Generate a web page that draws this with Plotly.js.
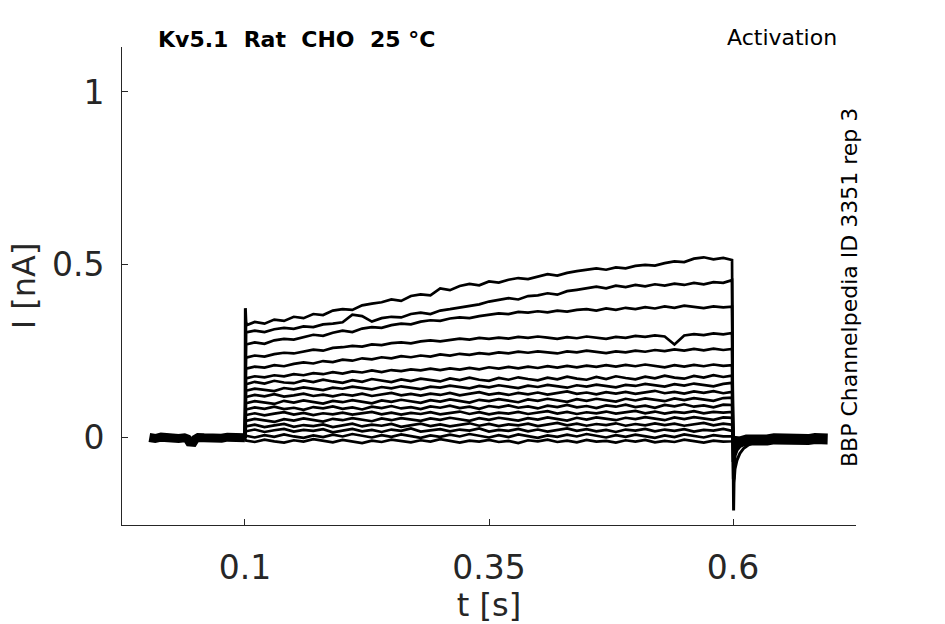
<!DOCTYPE html>
<html>
<head>
<meta charset="utf-8">
<script src="https://cdn.plot.ly/plotly-3.0.1.min.js"></script>
<style>
  html, body { margin: 0; padding: 0; background: #fff; }
  #plot { width: 945px; height: 624px; }
</style>
</head>
<body>
<div id="plot"></div>
<script>
// sample times during the step (s)
const tGrid = [
  0.101, 0.11, 0.12, 0.13, 0.14, 0.15, 0.16, 0.17, 0.18, 0.19,
  0.20, 0.21, 0.22, 0.23, 0.24, 0.25, 0.26, 0.27, 0.28, 0.29,
  0.30, 0.31, 0.32, 0.33, 0.34, 0.35, 0.36, 0.37, 0.38, 0.39,
  0.40, 0.41, 0.42, 0.43, 0.44, 0.45, 0.46, 0.47, 0.48, 0.49,
  0.50, 0.51, 0.52, 0.53, 0.54, 0.55, 0.56, 0.57, 0.58, 0.59,
  0.599
];

// current per sweep during the step (nA)
const sweep1 = [
  0.325, 0.335, 0.33, 0.342, 0.338, 0.35, 0.346, 0.358, 0.355, 0.368,
  0.372, 0.37, 0.383, 0.388, 0.392, 0.40, 0.396, 0.41, 0.415, 0.412,
  0.432, 0.427, 0.439, 0.445, 0.441, 0.452, 0.449, 0.457, 0.462, 0.459,
  0.467, 0.473, 0.469, 0.477, 0.482, 0.485, 0.49, 0.486, 0.493, 0.49,
  0.497, 0.50, 0.498, 0.505, 0.51, 0.508, 0.518, 0.522, 0.516, 0.52,
  0.514
];
const sweep2 = [
  0.305, 0.31, 0.306, 0.314, 0.318, 0.315, 0.322, 0.32, 0.328, 0.33,
  0.334, 0.356, 0.352, 0.336, 0.346, 0.35, 0.348, 0.358, 0.362, 0.358,
  0.368, 0.372, 0.376, 0.382, 0.386, 0.394, 0.40, 0.404, 0.40, 0.41,
  0.412, 0.418, 0.414, 0.424, 0.428, 0.432, 0.437, 0.432, 0.44, 0.436,
  0.442, 0.438, 0.444, 0.44, 0.446, 0.442, 0.448, 0.444, 0.45, 0.448,
  0.456
];
const sweep3 = [
  0.27, 0.276, 0.272, 0.282, 0.286, 0.284, 0.292, 0.298, 0.295, 0.304,
  0.31, 0.306, 0.316, 0.32, 0.318, 0.326, 0.33, 0.328, 0.336, 0.34,
  0.338, 0.345, 0.348, 0.346, 0.352, 0.356, 0.36, 0.358, 0.364, 0.362,
  0.366, 0.363, 0.368, 0.365, 0.37, 0.372, 0.368, 0.374, 0.37, 0.376,
  0.372, 0.378, 0.374, 0.38, 0.376, 0.382, 0.378, 0.375, 0.38, 0.377,
  0.379
];
const sweep4 = [
  0.232, 0.238, 0.235, 0.242, 0.246, 0.244, 0.25, 0.255, 0.252, 0.26,
  0.262, 0.266, 0.264, 0.27, 0.268, 0.274, 0.276, 0.273, 0.279, 0.282,
  0.279, 0.284, 0.287, 0.284, 0.289, 0.286, 0.29, 0.287, 0.292, 0.289,
  0.293, 0.29, 0.286, 0.291, 0.288, 0.293, 0.29, 0.286, 0.292, 0.289,
  0.295, 0.292, 0.296, 0.293, 0.27, 0.296, 0.3, 0.297, 0.302, 0.299,
  0.303
];
const sweep5 = [
  0.2, 0.206, 0.203, 0.21, 0.207, 0.214, 0.218, 0.215, 0.222, 0.219,
  0.226, 0.223, 0.23, 0.227, 0.233, 0.23, 0.236, 0.233, 0.238, 0.235,
  0.241, 0.238, 0.243, 0.24, 0.245, 0.242, 0.247, 0.244, 0.249, 0.246,
  0.25, 0.247, 0.244, 0.25, 0.247, 0.252, 0.249, 0.245, 0.25, 0.247,
  0.252, 0.249, 0.254, 0.251, 0.256, 0.252, 0.257, 0.253, 0.258, 0.254,
  0.257
];
const sweep6 = [
  0.172, 0.178, 0.175, 0.181, 0.178, 0.184, 0.181, 0.187, 0.184, 0.19,
  0.186, 0.192, 0.189, 0.195, 0.19, 0.196, 0.193, 0.198, 0.195, 0.2,
  0.196, 0.201, 0.197, 0.202, 0.198, 0.204, 0.2, 0.205, 0.201, 0.206,
  0.202, 0.207, 0.203, 0.208, 0.204, 0.209, 0.205, 0.21, 0.206, 0.211,
  0.207, 0.212, 0.208, 0.204, 0.21, 0.206, 0.211, 0.207, 0.212, 0.208,
  0.21
];
const sweep7 = [
  0.155, 0.162, 0.157, 0.165, 0.16, 0.158, 0.166, 0.161, 0.168, 0.163,
  0.159, 0.167, 0.162, 0.17, 0.165, 0.161, 0.169, 0.164, 0.171, 0.166,
  0.163, 0.172, 0.167, 0.174, 0.168, 0.165, 0.173, 0.168, 0.175, 0.17,
  0.166, 0.174, 0.169, 0.177, 0.171, 0.168, 0.176, 0.17, 0.178, 0.173,
  0.169, 0.177, 0.172, 0.18, 0.174, 0.171, 0.179, 0.174, 0.181, 0.176,
  0.18
];
const sweep8 = [
  0.136, 0.142, 0.139, 0.135, 0.144, 0.14, 0.146, 0.141, 0.138, 0.145,
  0.142, 0.148, 0.143, 0.14, 0.147, 0.143, 0.149, 0.144, 0.141, 0.148,
  0.145, 0.151, 0.146, 0.143, 0.15, 0.146, 0.152, 0.147, 0.144, 0.151,
  0.147, 0.153, 0.148, 0.145, 0.152, 0.148, 0.154, 0.149, 0.146, 0.153,
  0.15, 0.156, 0.151, 0.148, 0.155, 0.151, 0.157, 0.152, 0.149, 0.156,
  0.159
];
const sweep9 = [
  0.118, 0.124, 0.12, 0.126, 0.119, 0.123, 0.128, 0.121, 0.125, 0.12,
  0.126, 0.122, 0.128, 0.121, 0.125, 0.13, 0.123, 0.127, 0.122, 0.128,
  0.124, 0.13, 0.123, 0.127, 0.132, 0.125, 0.129, 0.124, 0.13, 0.126,
  0.131, 0.125, 0.129, 0.134, 0.127, 0.131, 0.126, 0.132, 0.128, 0.133,
  0.127, 0.131, 0.136, 0.129, 0.133, 0.128, 0.134, 0.13, 0.135, 0.129,
  0.133
];
const sweep10 = [
  0.1, 0.106, 0.103, 0.098, 0.107, 0.102, 0.108, 0.104, 0.099, 0.107,
  0.103, 0.109, 0.105, 0.1, 0.108, 0.104, 0.11, 0.105, 0.101, 0.109,
  0.105, 0.111, 0.106, 0.102, 0.11, 0.106, 0.112, 0.107, 0.103, 0.111,
  0.107, 0.113, 0.108, 0.104, 0.112, 0.107, 0.113, 0.109, 0.105, 0.113,
  0.108, 0.114, 0.11, 0.106, 0.114, 0.109, 0.115, 0.111, 0.107, 0.115,
  0.116
];
const sweep11 = [
  0.082, 0.088, 0.084, 0.09, 0.083, 0.087, 0.081, 0.089, 0.085, 0.091,
  0.084, 0.088, 0.082, 0.09, 0.086, 0.092, 0.085, 0.089, 0.083, 0.091,
  0.087, 0.093, 0.086, 0.09, 0.084, 0.092, 0.088, 0.094, 0.087, 0.091,
  0.085, 0.093, 0.089, 0.095, 0.088, 0.092, 0.086, 0.094, 0.09, 0.096,
  0.089, 0.093, 0.087, 0.095, 0.091, 0.097, 0.09, 0.094, 0.088, 0.096,
  0.095
];
const sweep12 = [
  0.066, 0.071, 0.065, 0.07, 0.074, 0.067, 0.072, 0.066, 0.071, 0.068,
  0.073, 0.067, 0.071, 0.075, 0.068, 0.073, 0.067, 0.072, 0.069, 0.074,
  0.068, 0.072, 0.076, 0.069, 0.074, 0.068, 0.073, 0.07, 0.075, 0.069,
  0.073, 0.077, 0.07, 0.075, 0.069, 0.074, 0.071, 0.076, 0.07, 0.074,
  0.078, 0.071, 0.076, 0.07, 0.075, 0.072, 0.077, 0.071, 0.075, 0.073,
  0.075
];
const sweep13 = [
  0.049, 0.055, 0.051, 0.046, 0.054, 0.05, 0.056, 0.052, 0.047, 0.055,
  0.051, 0.057, 0.052, 0.048, 0.056, 0.051, 0.057, 0.053, 0.049, 0.056,
  0.052, 0.058, 0.053, 0.049, 0.057, 0.052, 0.058, 0.054, 0.05, 0.057,
  0.053, 0.059, 0.054, 0.05, 0.058, 0.053, 0.059, 0.055, 0.051, 0.058,
  0.054, 0.06, 0.055, 0.051, 0.059, 0.054, 0.06, 0.056, 0.052, 0.059,
  0.058
];
const sweep14 = [
  0.033, 0.038, 0.031, 0.036, 0.04, 0.032, 0.037, 0.034, 0.039, 0.031,
  0.036, 0.041, 0.033, 0.038, 0.035, 0.04, 0.032, 0.037, 0.041, 0.034,
  0.039, 0.033, 0.038, 0.042, 0.035, 0.04, 0.034, 0.039, 0.036, 0.041,
  0.034, 0.039, 0.043, 0.036, 0.041, 0.035, 0.04, 0.037, 0.042, 0.035,
  0.04, 0.036, 0.042, 0.037, 0.041, 0.035, 0.04, 0.043, 0.036, 0.041,
  0.038
];
const sweep15 = [
  0.019, 0.024, 0.017, 0.022, 0.026, 0.018, 0.023, 0.02, 0.025, 0.016,
  0.021, 0.026, 0.019, 0.023, 0.017, 0.024, 0.02, 0.027, 0.018, 0.022,
  0.025, 0.019, 0.024, 0.021, 0.027, 0.018, 0.023, 0.02, 0.026, 0.019,
  0.024, 0.018, 0.022, 0.027, 0.02, 0.025, 0.019, 0.023, 0.017, 0.024,
  0.021, 0.026, 0.019, 0.024, 0.02, 0.025, 0.018, 0.023, 0.021, 0.026,
  0.02
];
const sweep16 = [
  0.006, 0.001, 0.008, 0.003, 0.01, 0.004, 0.0, 0.007, 0.002, 0.009,
  0.004, 0.011, 0.005, 0.001, 0.008, 0.003, 0.01, 0.006, 0.0, 0.007,
  0.003, 0.009, 0.004, 0.011, 0.006, 0.001, 0.008, 0.002, 0.01, 0.005,
  0.0, 0.007, 0.003, 0.009, 0.004, 0.011, 0.005, 0.001, 0.008, 0.003,
  0.009, 0.004, 0.0, 0.007, 0.002, 0.01, 0.005, 0.001, 0.008, 0.004,
  0.004
];
const sweep17 = [
  -0.008, -0.012, -0.005, -0.01, -0.014, -0.007, -0.011, -0.004, -0.009, -0.013,
  -0.006, -0.01, -0.015, -0.008, -0.012, -0.005, -0.01, -0.013, -0.007, -0.011,
  -0.004, -0.009, -0.014, -0.008, -0.011, -0.006, -0.012, -0.009, -0.015, -0.007,
  -0.01, -0.005, -0.012, -0.008, -0.013, -0.006, -0.011, -0.009, -0.014, -0.007,
  -0.011, -0.006, -0.013, -0.009, -0.012, -0.005, -0.01, -0.014, -0.008, -0.011,
  -0.01
];
const sweeps = [sweep1, sweep2, sweep3, sweep4, sweep5, sweep6, sweep7, sweep8, sweep9,
  sweep10, sweep11, sweep12, sweep13, sweep14, sweep15, sweep16, sweep17];

// holding level before the step (all sweeps overlap here)
const preT = [0.002, 0.008, 0.014, 0.02, 0.026, 0.032, 0.038, 0.041, 0.043, 0.047,
  0.049, 0.052, 0.058, 0.064, 0.07, 0.076, 0.082, 0.088, 0.094, 0.1];
const preI = [0.001, -0.002, 0.002, -0.001, 0.001, -0.002, 0.0, -0.003, -0.012, -0.013,
  -0.004, 0.001, 0.0, -0.002, 0.001, -0.001, 0.002, 0.0, -0.001, 0.0];

// capacitive transient at step onset
const onT = [0.1, 0.1004, 0.101, 0.102];
const onI = [0, 0.375, 0.335, 0.325];

// tail currents after the step
const tailT = [0.6, 0.6006, 0.601, 0.602, 0.604, 0.607, 0.611, 0.616, 0.622, 0.63, 0.64, 0.65];
const tailDeep = [0, -0.21, -0.13, -0.09, -0.065, -0.045, -0.03, -0.02, -0.013, -0.008, -0.005, -0.004];
const tailMid = [0, -0.12, -0.07, -0.05, -0.035, -0.025, -0.016, -0.011, -0.008, -0.005, -0.004, -0.003];
const tailLow = [0, -0.07, -0.045, -0.032, -0.024, -0.017, -0.012, -0.009, -0.006, -0.004, -0.003, -0.002];
const postT = [0.6, 0.607, 0.614, 0.621, 0.628, 0.635, 0.642, 0.649, 0.656, 0.663,
  0.67, 0.677, 0.684, 0.691, 0.697];
const postI = [-0.01, -0.012, -0.006, -0.008, -0.004, -0.006, -0.003, -0.005, -0.002, -0.004,
  -0.003, -0.005, -0.002, -0.004, -0.003];

const xTicks = [0.1, 0.35, 0.6];
const xTickText = ['0.1', '0.35', '0.6'];
const yTicks = [0, 0.5, 1];
const yTickText = ['0', '0.5', '1'];

const ink = '#262626';
const font = 'DejaVu Sans';

const line = (w) => ({ color: '#000', width: w });
let traces = [];

traces.push({ x: preT, y: preI, mode: 'lines', line: line(9) });
traces.push({ x: postT, y: postI, mode: 'lines', line: line(11) });

sweeps.forEach((vals) => {
  traces.push({
    x: [0.1].concat(tGrid, [0.6]),
    y: [0].concat(vals, [0]),
    mode: 'lines',
    line: line(2.7)
  });
});

traces.push({ x: onT, y: onI, mode: 'lines', line: line(3) });
traces.push({ x: tailT, y: tailDeep, mode: 'lines', line: line(3) });
traces.push({ x: tailT, y: tailMid, mode: 'lines', line: line(3.5) });
traces.push({ x: tailT, y: tailLow, mode: 'lines', line: line(4) });

const layout = {
  width: 945,
  height: 624,
  margin: { l: 122, r: 89, t: 47, b: 99 },
  paper_bgcolor: '#fff',
  plot_bgcolor: '#fff',
  showlegend: false,
  font: { family: font, color: ink, size: 33 },
  xaxis: {
    range: [-0.026, 0.726],
    tickvals: xTicks,
    ticktext: xTickText,
    ticks: 'inside',
    ticklen: 6,
    tickwidth: 1,
    tickcolor: ink,
    showline: true,
    linecolor: ink,
    linewidth: 1,
    showgrid: false,
    zeroline: false,
    ticklabelstandoff: 13,
    tickfont: { family: font, size: 33, color: ink },
    title: { text: 't [s]', standoff: 6, font: { family: font, size: 32, color: ink } }
  },
  yaxis: {
    range: [-0.252, 1.13],
    tickvals: yTicks,
    ticktext: yTickText,
    ticks: 'inside',
    ticklen: 6,
    tickwidth: 1,
    tickcolor: ink,
    showline: true,
    linecolor: ink,
    linewidth: 1,
    showgrid: false,
    zeroline: false,
    ticklabelstandoff: 10,
    tickfont: { family: font, size: 33, color: ink },
    title: { text: 'I [nA]', standoff: 6, font: { family: font, size: 32, color: ink } }
  },
  annotations: [
    {
      text: '<b>Kv5.1\u00a0 Rat\u00a0 CHO\u00a0 25 °C</b>',
      xref: 'paper', yref: 'paper', x: 0.047, y: 1.015,
      xanchor: 'left', yanchor: 'middle', showarrow: false,
      font: { family: font, size: 22, color: '#000' }
    },
    {
      text: 'Activation',
      xref: 'paper', yref: 'paper', x: 0.977, y: 1.019,
      xanchor: 'right', yanchor: 'middle', showarrow: false,
      font: { family: font, size: 22, color: '#000' }
    },
    {
      text: 'BBP Channelpedia ID 3351 rep 3',
      xref: 'paper', yref: 'paper', x: 0.992, y: 0.496,
      xanchor: 'center', yanchor: 'middle', showarrow: false, textangle: -90,
      font: { family: font, size: 22, color: '#000' }
    }
  ]
};

Plotly.newPlot('plot', traces, layout, { displayModeBar: false, staticPlot: true });
</script>
</body>
</html>
